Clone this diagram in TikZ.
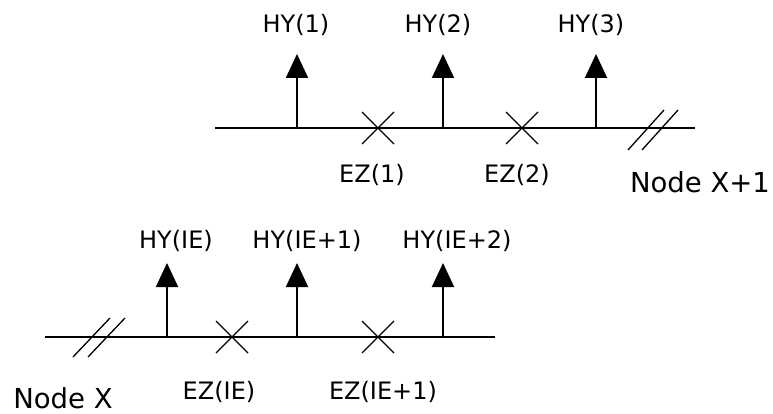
\documentclass[tikz,border=0pt]{standalone}
\usepackage{fontspec}
\setmainfont{DejaVu Sans}
\usetikzlibrary{arrows.meta,calc}
\tikzset{
  wire/.style={line width=2pt},
  stem/.style={line width=2pt,-{Triangle[length=24pt,width=22pt]}},
  xmark/.style={line width=1.3pt},
  brk/.style={line width=1.3pt},
  lbl/.style={font=\fontsize{24}{28}\selectfont,inner sep=0pt},
  nlbl/.style={font=\fontsize{27.5}{32}\selectfont,inner sep=0pt,anchor=base}
}
\begin{document}
\begin{tikzpicture}[x=1pt,y=-1pt]
\useasboundingbox (0,0) rectangle (773,414);
% ---------- top line (Node X+1)
\coordinate (tl) at (215,128);
\coordinate (tr) at (695,128);
\draw[wire] (tl) -- (tr);
\foreach \i/\x in {1/297,2/443,3/596}{
  \coordinate (tb\i) at (\x,128);
  \coordinate (tt\i) at (\x,54);
  \draw[stem] (tb\i) -- (tt\i);
}
\foreach \i/\x in {1/378,2/522}{
  \coordinate (tc\i) at (\x,128);
  \draw[xmark] ($(tc\i)+(-16,-16)$) -- ($(tc\i)+(16,16)$);
  \draw[xmark] ($(tc\i)+(-16,16)$) -- ($(tc\i)+(16,-16)$);
}
\coordinate (ts1a) at (628,150); \coordinate (ts1b) at (664,110);
\coordinate (ts2a) at (642,150); \coordinate (ts2b) at (678,110);
\draw[brk] (ts1a) -- (ts1b);
\draw[brk] (ts2a) -- (ts2b);
\node[lbl] (hy1) at (296,25) {HY(1)};
\node[lbl] (hy2) at (438,25) {HY(2)};
\node[lbl] (hy3) at (591,25) {HY(3)};
\node[lbl] (ez1) at (372,175) {EZ(1)};
\node[lbl] (ez2) at (517,175) {EZ(2)};
\node[nlbl] (nx1) at (700,193) {Node X+1};
% ---------- bottom line (Node X)
\coordinate (bl) at (45,337);
\coordinate (br) at (495,337);
\draw[wire] (bl) -- (br);
\foreach \i/\x in {1/167,2/297,3/443}{
  \coordinate (bb\i) at (\x,337);
  \coordinate (bt\i) at (\x,263);
  \draw[stem] (bb\i) -- (bt\i);
}
\foreach \i/\x in {1/232,2/378}{
  \coordinate (bc\i) at (\x,337);
  \draw[xmark] ($(bc\i)+(-16,-16)$) -- ($(bc\i)+(16,16)$);
  \draw[xmark] ($(bc\i)+(-16,16)$) -- ($(bc\i)+(16,-16)$);
}
\coordinate (bs1a) at (73,357); \coordinate (bs1b) at (110,318);
\coordinate (bs2a) at (88,357); \coordinate (bs2b) at (125,318);
\draw[brk] (bs1a) -- (bs1b);
\draw[brk] (bs2a) -- (bs2b);
\node[lbl] (hyie) at (176,241) {HY(IE)};
\node[lbl] (hyie1) at (307,241) {HY(IE+1)};
\node[lbl] (hyie2) at (457,241) {HY(IE+2)};
\node[lbl] (ezie) at (219,392) {EZ(IE)};
\node[lbl] (ezie1) at (383,392) {EZ(IE+1)};
\node[nlbl] (nx) at (63,408) {Node X};
\end{tikzpicture}
\end{document}
